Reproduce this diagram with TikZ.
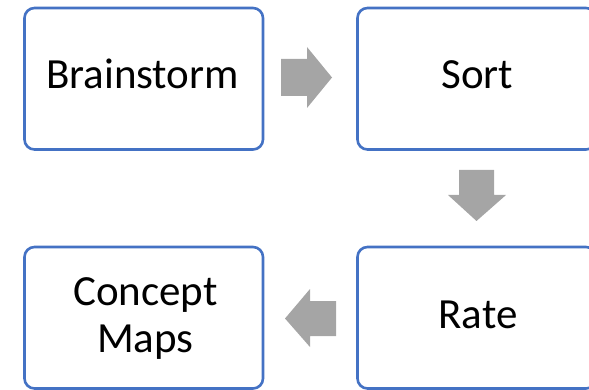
\documentclass[tikz,border=0pt]{standalone}
\usepackage{fontspec}
\setmainfont{Carlito}
\begin{document}
\begin{tikzpicture}[x=1pt,y=-1pt,
  stage/.style={draw=boxblue, line width=2.6pt, rounded corners=10pt, minimum width=238.5pt, minimum height=141.5pt, inner sep=0pt},
  lbl/.style={font=\fontsize{43}{47}\selectfont, inner sep=0pt, align=center},
  blockarrow/.style={fill=arrowgray, draw=none}]
\definecolor{boxblue}{HTML}{4472C4}
\definecolor{arrowgray}{HTML}{A5A5A5}
\useasboundingbox (0,0) rectangle (589,390);
\begin{scope}
\clip (0,0) rectangle (589,390);
\node[stage] (b1) at (143.75,78.75) {};
\node[stage] (b2) at (476.75,78.75) {};
\node[stage] (b3) at (476.75,317.75) {};
\node[stage] (b4) at (143.75,317.75) {};
\end{scope}
\node[lbl, anchor=base] (brain) at (142.5,89) {Brainstorm};
\node[lbl, anchor=base] (sort) at (477.5,88.5) {Sort};
\node[lbl, anchor=base] (rate) at (478,328) {Rate};
\node[lbl, anchor=center] (concept) at (145.5,319) {Concept\\Maps};
% block arrows
\fill[blockarrow] (281,59) -- (307,59) -- (307,47) -- (332,77.5) -- (307,108) -- (307,96) -- (281,96) -- cycle;
\fill[blockarrow] (459,170) -- (494,170) -- (494,195) -- (506,195) -- (476.5,221) -- (448,195) -- (459,195) -- cycle;
\fill[blockarrow] (336,301) -- (310,301) -- (310,289) -- (285,318.5) -- (310,347) -- (310,336) -- (336,336) -- cycle;
\end{tikzpicture}
\end{document}
